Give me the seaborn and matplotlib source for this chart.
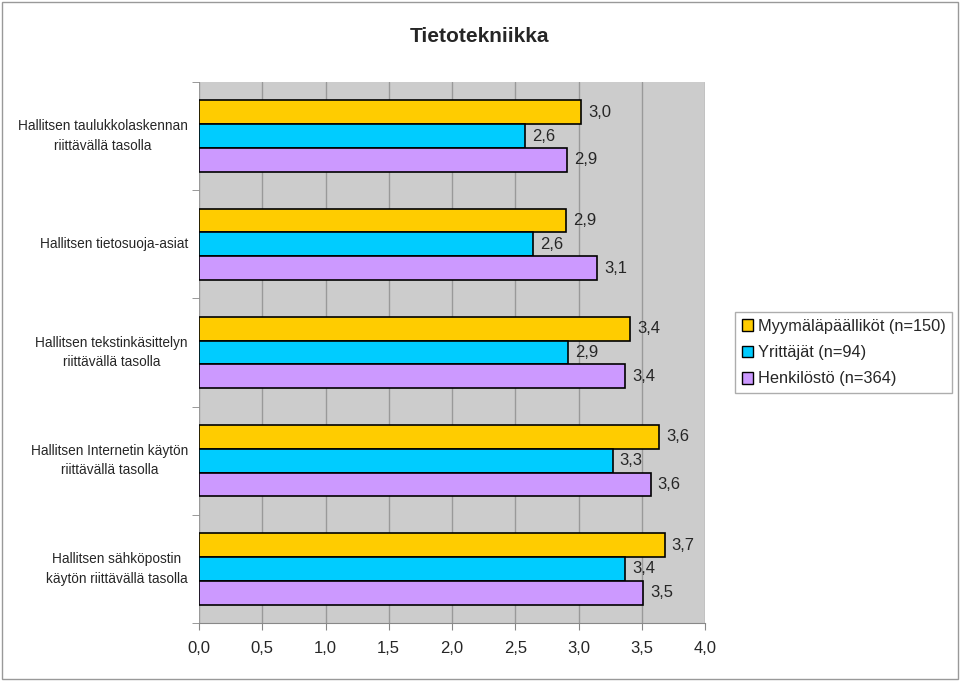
import numpy as np
import pandas as pd
import seaborn as sns
import matplotlib.pyplot as plt
from matplotlib.patches import Rectangle, Patch

categories = [
    "Hallitsen taulukkolaskennan\nriittävällä tasolla",
    "Hallitsen tietosuoja-asiat",
    "Hallitsen tekstinkäsittelyn\nriittävällä tasolla",
    "Hallitsen Internetin käytön\nriittävällä tasolla",
    "Hallitsen sähköpostin\nkäytön riittävällä tasolla",
]
series = ["Myymäläpäälliköt (n=150)", "Yrittäjät (n=94)", "Henkilöstö (n=364)"]
myymalapaallikot = [3.02, 2.90, 3.41, 3.64, 3.68]
yrittajat = [2.58, 2.64, 2.92, 3.27, 3.37]
henkilosto = [2.91, 3.15, 3.37, 3.57, 3.51]
colors = ["#FFCC00", "#00CCFF", "#CC99FF"]

rows = []
for s, vals in zip(series, [myymalapaallikot, yrittajat, henkilosto]):
    for c, v in zip(categories, vals):
        rows.append({"kategoria": c, "sarja": s, "arvo": v})
df = pd.DataFrame(rows)

sns.set_style("white")
plt.rcParams["font.family"] = ["Liberation Sans", "DejaVu Sans"]

fig = plt.figure(figsize=(9.6, 6.81), dpi=100)
ax = fig.add_axes([199 / 960, 1 - 623 / 681, (705 - 199) / 960, (623 - 82) / 681])
ax.set_facecolor("#CCCCCC")

sns.barplot(data=df, x="arvo", y="kategoria", hue="sarja", palette=colors,
            order=categories, hue_order=series, width=0.66, edgecolor="black",
            linewidth=1.2, saturation=1, legend=False, ax=ax, zorder=3)

for cont in ax.containers:
    ax.bar_label(cont, labels=[f"{v:.1f}".replace(".", ",") for v in cont.datavalues],
                 padding=5, fontsize=12)

ax.set_xlim(0, 4)
ax.set_xticks(np.arange(0, 4.01, 0.5))
ax.set_xticklabels([f"{t:.1f}".replace(".", ",") for t in np.arange(0, 4.01, 0.5)], fontsize=12)
ax.set_ylim(len(categories) - 0.5, -0.5)
ax.xaxis.grid(True, color="#999999", linewidth=1, zorder=0)
ax.set_axisbelow(True)
ax.set_xlabel("")
ax.set_ylabel("")
ax.tick_params(axis="y", labelsize=9.8, length=0, pad=8)
ax.tick_params(axis="x", length=5, color="#888888", bottom=True, pad=8)
ax.set_yticks(np.arange(-0.5, len(categories), 1), minor=True)
ax.tick_params(axis="y", which="minor", length=5, color="#888888", left=True)
for lab in ax.get_yticklabels():
    lab.set_multialignment("center")
    lab.set_linespacing(1.5)
    lab.set_verticalalignment("center")
for side in ["top", "right", "left"]:
    ax.spines[side].set_visible(False)
ax.spines["bottom"].set_color("#888888")

handles = [Patch(facecolor=c, edgecolor="black", linewidth=1) for c in colors]
leg = fig.legend(handles, series, loc="upper left", bbox_to_anchor=(735 / 960, 1 - 312 / 681),
                 frameon=True, fancybox=False, edgecolor="#999999", fontsize=11.8,
                 handlelength=0.7, handleheight=0.7, handletextpad=0.3,
                 labelspacing=0.7, borderpad=0.4, borderaxespad=0)

fig.text(0.5, 1 - 36 / 681, "Tietotekniikka", ha="center", va="center",
         fontsize=15, fontweight="bold")

fig.patches.append(Rectangle((2 / 960, 2 / 681), 956 / 960, 677 / 681, transform=fig.transFigure,
                             fill=False, edgecolor="#999999", linewidth=1))

fig.savefig("out.png", dpi=100)
